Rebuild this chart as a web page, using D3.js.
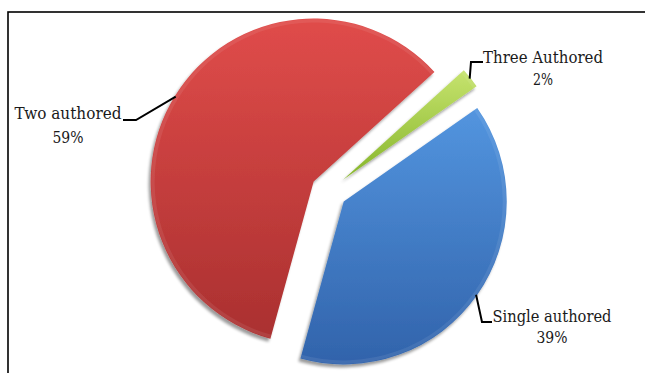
<!DOCTYPE html>
<html>
<head>
<meta charset="utf-8">
<script src="https://cdn.jsdelivr.net/npm/d3@7/dist/d3.min.js"></script>
<style>
  html, body { margin: 0; padding: 0; background: #fff; }
  svg { display: block; }
</style>
</head>
<body>
<svg id="chart" width="645" height="373"></svg>
<script>
// Authorship pattern of papers
const categories = ["Single authored", "Two authored", "Three Authored"];
const percents = [39, 59, 2];
const topColors = ["#5395df", "#e04c4a", "#c6e36e"];
const bottomColors = ["#3163ab", "#aa3030", "#86b52a"];

// Layout
const width = 645, height = 373;
const cx = 329, cy = 191, radius = 163, explode = 18;
const firstSliceAngle = 55 * Math.PI / 180;
const labelFont = "'DejaVu Serif', serif";

// Label placement per slice: elbow point of the leader, text anchor and line gap
const labelLayout = [
  { elbow: [482, 322], end: [492, 322], tx: 552, ty: 322, gap: 21, w1: 119, w2: 31 },
  { elbow: [136, 120], end: [123, 120], tx: 68,  ty: 119, gap: 24, w1: 107, w2: 31 },
  { elbow: [471, 62],  end: [483, 62],  tx: 543, ty: 63,  gap: 22, w1: 120, w2: 20 }
];

const svg = d3.select("#chart");
const defs = svg.append("defs");

// Soft drop shadow under the slices
const shadow = defs.append("filter").attr("id", "shadow")
  .attr("x", "-20%").attr("y", "-20%").attr("width", "140%").attr("height", "140%");
shadow.append("feGaussianBlur").attr("in", "SourceAlpha").attr("stdDeviation", 1.4).attr("result", "b");
shadow.append("feOffset").attr("in", "b").attr("dx", -2).attr("dy", 3).attr("result", "o");
shadow.append("feComponentTransfer").attr("in", "o").attr("result", "s")
  .append("feFuncA").attr("type", "linear").attr("slope", 0.4);
const merge = shadow.append("feMerge");
merge.append("feMergeNode").attr("in", "s");
merge.append("feMergeNode").attr("in", "SourceGraphic");

// Vertical gradients for each slice
categories.forEach((c, i) => {
  const g = defs.append("linearGradient").attr("id", "grad" + i)
    .attr("x1", 0).attr("y1", 0).attr("x2", 0).attr("y2", 1);
  g.append("stop").attr("offset", "0%").attr("stop-color", topColors[i]);
  g.append("stop").attr("offset", "100%").attr("stop-color", bottomColors[i]);
});

// Chart border
svg.append("rect")
  .attr("x", 8).attr("y", 12)
  .attr("width", 700).attr("height", 420)
  .attr("fill", "none").attr("stroke", "#000").attr("stroke-width", 1.6);

const pie = d3.pie().sort(null).value(d => d)
  .startAngle(firstSliceAngle).endAngle(firstSliceAngle + 2 * Math.PI);
const arcs = pie(percents);
const arc = d3.arc().innerRadius(0).outerRadius(radius);

const offset = d => {
  const mid = (d.startAngle + d.endAngle) / 2;
  return [Math.sin(mid) * explode, -Math.cos(mid) * explode];
};

const slices = svg.append("g").attr("transform", `translate(${cx},${cy})`);
slices.selectAll("path.slice")
  .data(arcs)
  .join("path")
  .attr("class", "slice")
  .attr("transform", d => `translate(${offset(d)})`)
  .attr("d", arc)
  .attr("fill", (d, i) => `url(#grad${i})`)
  .attr("filter", "url(#shadow)");

// Light bevel along each slice rim
slices.selectAll("path.rim")
  .data(arcs)
  .join("path")
  .attr("class", "rim")
  .attr("transform", d => `translate(${offset(d)})`)
  .attr("d", d3.arc().innerRadius(radius - 4).outerRadius(radius - 0.5))
  .attr("fill", "#fff")
  .attr("opacity", 0.08);

// Leader lines and labels
const edgePoint = d => {
  const mid = (d.startAngle + d.endAngle) / 2;
  const [ox, oy] = offset(d);
  return [cx + ox + Math.sin(mid) * (radius - 1), cy + oy - Math.cos(mid) * (radius - 1)];
};

const labels = svg.append("g");
arcs.forEach((d, i) => {
  const L = labelLayout[i];
  labels.append("path")
    .attr("d", d3.line()([edgePoint(d), L.elbow, L.end]))
    .attr("fill", "none").attr("stroke", "#000").attr("stroke-width", 2);
  labels.append("text")
    .attr("x", L.tx).attr("y", L.ty)
    .attr("text-anchor", "middle")
    .style("font-family", labelFont).style("font-size", "16px").attr("fill", "#1a1a1a")
    .attr("textLength", L.w1).attr("lengthAdjust", "spacingAndGlyphs")
    .text(categories[i]);
  labels.append("text")
    .attr("x", L.tx).attr("y", L.ty + L.gap)
    .attr("text-anchor", "middle")
    .style("font-family", labelFont).style("font-size", "16px").attr("fill", "#1a1a1a")
    .attr("textLength", L.w2).attr("lengthAdjust", "spacingAndGlyphs")
    .text(percents[i] + "%");
});
</script>
</body>
</html>
